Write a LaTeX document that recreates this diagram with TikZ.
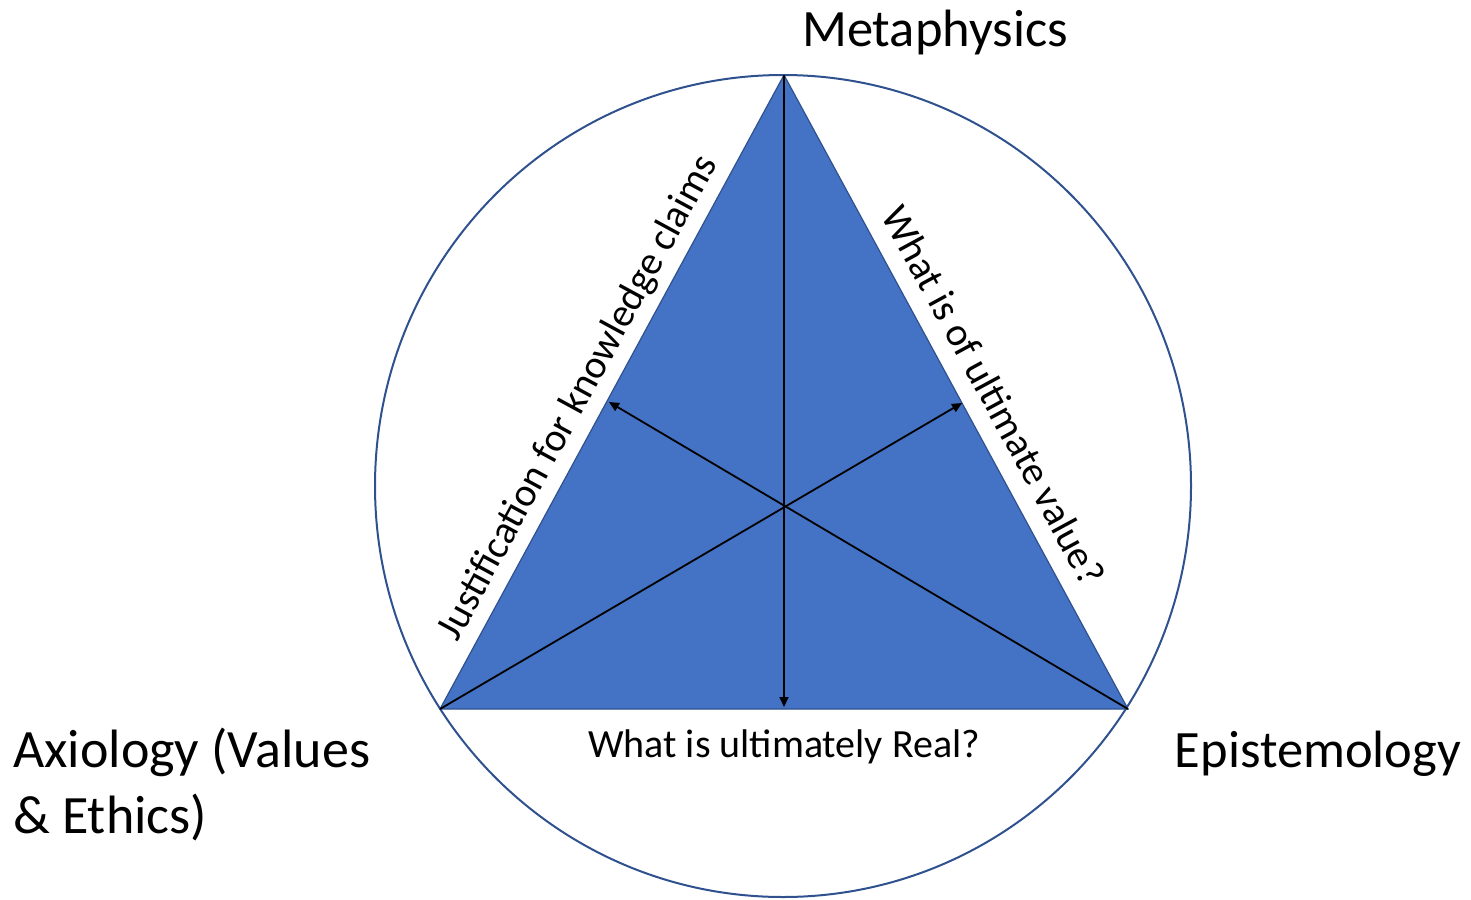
\documentclass[tikz,border=0pt]{standalone}
\usepackage{fontspec}
\setmainfont{Carlito}
\usetikzlibrary{arrows.meta}
\definecolor{triblue}{HTML}{4472C4}
\definecolor{edgeblue}{HTML}{2F528F}
\tikzset{
  ring/.style={draw=edgeblue, line width=2pt},
  tri/.style={fill=triblue, draw=edgeblue, line width=1.2pt, line join=miter},
  axis/.style={draw=black, line width=1.8pt, -{Triangle[length=10pt,width=9pt]}},
  bigtext/.style={font=\fontsize{52.5}{66}\selectfont, inner sep=0pt},
  sidetext/.style={font=\fontsize{40}{48}\selectfont, inner sep=0pt}
}
\begin{document}
\begin{tikzpicture}[x=1pt,y=-1pt]
\useasboundingbox (0,0) rectangle (1471,899);
% circle
\coordinate (C) at (783,486);
\draw[ring] (C) ellipse [x radius=408, y radius=411];
% triangle
\coordinate (T) at (784,75);
\coordinate (L) at (440,709);
\coordinate (R) at (1128,709);
\path[tri] (T) -- (L) -- (R) -- cycle;
% arrow end points
\coordinate (TL) at (609,402);
\coordinate (TR) at (962,403);
\coordinate (B) at (784,707);
\draw[axis] (T) -- (B);
\draw[axis] (L) -- (TR);
\draw[axis] (R) -- (TL);
% labels
\node[bigtext, anchor=base] (meta) at (935,47) {Metaphysics};
\node[bigtext, anchor=base] (epis) at (1318,767) {Epistemology};
\node[font=\fontsize{54}{66}\selectfont, inner sep=0pt, anchor=base west] (axio) at (13,767) {\vtop{\hbox{Axiology (Values}\hbox{\& Ethics)}}};
\node[sidetext, anchor=base] (real) at (784,757) {What is ultimately Real?};
\node[sidetext, anchor=base, rotate=61.5] (just) at (588,403) {Justification for knowledge claims};
\node[sidetext, anchor=base, rotate=-61.5] (value) at (982,402) {What is of ultimate value?};
\end{tikzpicture}
\end{document}
